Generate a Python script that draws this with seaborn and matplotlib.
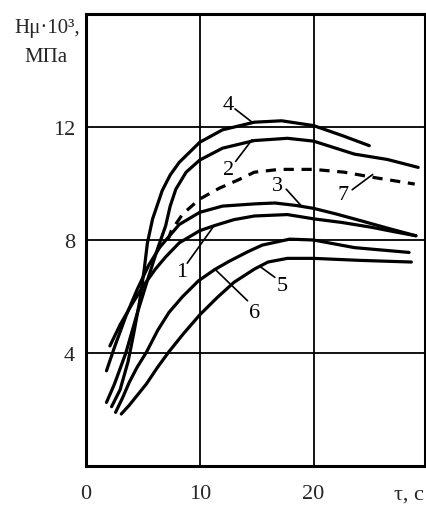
import matplotlib
matplotlib.use("Agg")
import matplotlib.pyplot as plt
import seaborn as sns
import pandas as pd

# ---- data ----
c1_x = [2.1, 3.0, 4.0, 5.0, 6.1, 7.0, 8.2, 10.0, 11.3, 13.0, 14.8, 17.7, 20.0, 22.5, 25.1, 27.0, 29.0]
c1_y = [4.25, 5.0, 5.7, 6.35, 6.97, 7.4, 7.9, 8.33, 8.51, 8.72, 8.85, 8.9, 8.75, 8.62, 8.45, 8.3, 8.15]

c2_x = [1.8, 2.5, 3.5, 4.5, 5.5, 6.3, 7.0, 7.4, 7.9, 8.8, 10.0, 12.0, 14.8, 17.7, 20.0, 23.6, 26.5, 29.2]
c2_y = [2.25, 2.9, 4.0, 5.4, 6.7, 7.7, 8.5, 9.2, 9.8, 10.4, 10.83, 11.25, 11.52, 11.6, 11.5, 11.04, 10.85, 10.57]

c3_x = [1.8, 2.5, 3.5, 4.5, 5.5, 6.5, 8.2, 10.0, 12.0, 14.9, 16.6, 18.5, 20.0, 22.0, 24.0, 26.5, 29.0]
c3_y = [3.37, 4.2, 5.3, 6.25, 7.1, 7.75, 8.55, 8.98, 9.2, 9.28, 9.31, 9.22, 9.12, 8.92, 8.7, 8.42, 8.15]

c4_x = [2.25, 3.0, 3.7, 4.2, 4.7, 5.1, 5.4, 5.85, 6.7, 7.4, 8.2, 10.0, 12.0, 14.8, 17.2, 20.0, 22.5, 24.9]
c4_y = [2.1, 2.7, 3.7, 4.7, 5.8, 6.9, 7.9, 8.74, 9.75, 10.3, 10.75, 11.46, 11.9, 12.17, 12.22, 12.05, 11.7, 11.34]

c5_x = [3.1, 3.8, 4.5, 5.3, 6.3, 7.3, 8.6, 10.0, 11.5, 13.0, 14.8, 16.0, 17.7, 20.0, 24.0, 28.6]
c5_y = [1.84, 2.15, 2.5, 2.9, 3.5, 4.05, 4.7, 5.35, 5.95, 6.5, 6.97, 7.22, 7.35, 7.35, 7.28, 7.22]

c6_x = [2.6, 3.2, 3.8, 4.5, 5.3, 6.3, 7.3, 8.5, 9.9, 11.3, 12.6, 14.3, 15.5, 17.9, 20.0, 23.6, 28.4]
c6_y = [1.9, 2.4, 2.96, 3.5, 4.02, 4.8, 5.44, 6.0, 6.56, 6.95, 7.25, 7.6, 7.82, 8.03, 8.0, 7.73, 7.56]

c7_x = [7.2, 7.5, 8.5, 10.0, 11.7, 13.4, 14.8, 17.0, 20.0, 22.7, 25.5, 28.9]
c7_y = [8.0, 8.33, 8.92, 9.45, 9.83, 10.13, 10.4, 10.5, 10.5, 10.4, 10.2, 9.98]

curve_names = ["1", "2", "3", "4", "5", "6", "7"]

# label text position, leader start, leader end
label_pos = {
    "4": (12.5, 12.8, 13.1, 12.64, 14.6, 12.17),
    "2": (12.55, 10.5, 13.15, 10.78, 14.6, 11.55),
    "3": (16.8, 9.92, 17.6, 9.8, 18.9, 9.22),
    "7": (22.6, 9.6, 23.4, 9.78, 25.2, 10.32),
    "1": (8.45, 6.9, 8.9, 7.18, 11.25, 8.5),
    "6": (14.85, 5.45, 14.2, 5.85, 11.3, 6.98),
    "5": (17.25, 6.4, 16.6, 6.68, 15.3, 7.06),
}

xtick_vals = [0, 10, 20]
xtick_labels = ["0", "10", "20"]
ytick_vals = [4, 8, 12]
ytick_labels = ["4", "8", "12"]

# ---- figure ----
sns.set_style("white")
plt.rcParams["font.family"] = "serif"
plt.rcParams["font.serif"] = ["Liberation Serif", "DejaVu Serif"]

W, H = 427, 506
fig = plt.figure(figsize=(W / 100, H / 100), dpi=100)
ax = fig.add_axes([86 / W, 1 - 467 / H, (425 - 86) / W, (467 - 15) / H])

series = [(c1_x, c1_y), (c2_x, c2_y), (c3_x, c3_y), (c4_x, c4_y),
          (c5_x, c5_y), (c6_x, c6_y), (c7_x, c7_y)]
for name, (xs, ys) in zip(curve_names, series):
    df = pd.DataFrame({"x": xs, "y": ys})
    sns.lineplot(data=df, x="x", y="y", ax=ax, color="black", lw=2.3,
                 estimator=None, sort=False)
    ln = ax.lines[-1]
    ln.set_solid_joinstyle("round")
    if name == "7":
        ln.set_linestyle((0, (3.2, 2.4)))

for name, (tx, ty, x0, y0, x1, y1) in label_pos.items():
    ax.text(tx, ty, name, fontsize=16, ha="center", va="center", color="black")
    ax.plot([x0, x1], [y0, y1], color="black", lw=1.2)

ax.set_xlim(0, 29.8)
ax.set_ylim(0, 16)
ax.set_xticks(xtick_vals)
ax.set_xticklabels(xtick_labels, fontsize=16)
ax.set_yticks(ytick_vals)
ax.set_yticklabels(ytick_labels, fontsize=16)
ax.tick_params(length=0, pad=8)
ax.tick_params(axis="x", pad=13)
ax.set_xlabel("")
ax.set_ylabel("")
ax.grid(True, color="black", lw=1.3)
ax.set_axisbelow(True)
for s in ax.spines.values():
    s.set_visible(True)
    s.set_color("black")
    s.set_linewidth(2.2)

# axis titles as text
xl = ax.get_xticklabels()[0]
ax.annotate("τ, c", xy=(28.4, 0), xycoords="data", xytext=(0, -13),
            textcoords="offset points", fontsize=16, ha="center", va="top")
fig.text(47 / W, 1 - 28 / H, "Hμ·10³,", fontsize=15, ha="center", va="center")
fig.text(46 / W, 1 - 58 / H, "МПа", fontsize=15, ha="center", va="center")

fig.savefig("out.png", dpi=100)
